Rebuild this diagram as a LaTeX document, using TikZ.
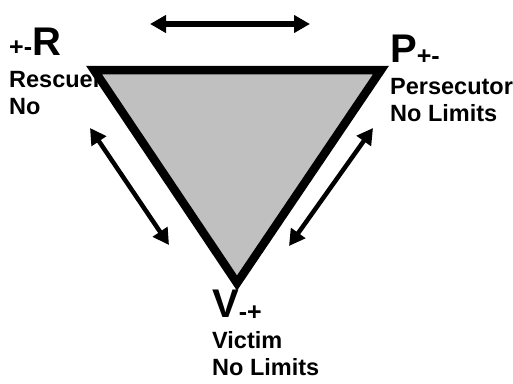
\documentclass[tikz,border=0pt]{standalone}
\usepackage{fontspec}
\setmainfont{Liberation Sans}
\usetikzlibrary{arrows.meta}
\definecolor{fillgray}{HTML}{C0C0C0}

\begin{document}
\begin{tikzpicture}[x=1pt,y=-1pt]
  \tikzset{letter/.style={inner sep=0pt,anchor=base west,font=\bfseries\fontsize{40}{40}\selectfont},
    rolename/.style={inner sep=0pt,anchor=base west,align=left,font=\bfseries\fontsize{23.5}{26.5}\selectfont},
    twoway/.style={line width=5.5pt,{Triangle[length=16pt,width=17pt]}-{Triangle[length=16pt,width=17pt]}}}
  \useasboundingbox (0,0) rectangle (513,383);
  % role letters and names
  \node[letter] (rletter) at (9,55) {{\fontsize{25}{25}\selectfont +-}R};
  \node[rolename] (rname) at (9,114) {Rescuer\\No};
  \node[letter] (pletter) at (390,62) {P{\fontsize{25}{25}\selectfont\raisebox{-2pt}{+-}}};
  \node[rolename] (pname) at (390,121) {Persecutor\\No Limits};
  \node[letter] (vletter) at (212,317) {V{\fontsize{25}{25}\selectfont\raisebox{-3pt}{-+}}};
  \node[rolename] (vname) at (212,375) {Victim\\No Limits};
  % triangle
  \coordinate (rcorner) at (94,70);
  \coordinate (pcorner) at (381,70);
  \coordinate (vcorner) at (237,283);
  \draw[line width=8.5pt,fill=fillgray] (rcorner) -- (pcorner) -- (vcorner) -- cycle;
  % arrows
  \coordinate (topleft) at (150,24);
  \coordinate (topright) at (310,24);
  \coordinate (leftup) at (90,128);
  \coordinate (leftdown) at (169,245);
  \coordinate (rightdown) at (289,246);
  \coordinate (rightup) at (373,128);
  \draw[twoway] (topleft) -- (topright);
  \draw[twoway,line width=4.5pt] (leftup) -- (leftdown);
  \draw[twoway,line width=4.5pt] (rightdown) -- (rightup);
\end{tikzpicture}
\end{document}
